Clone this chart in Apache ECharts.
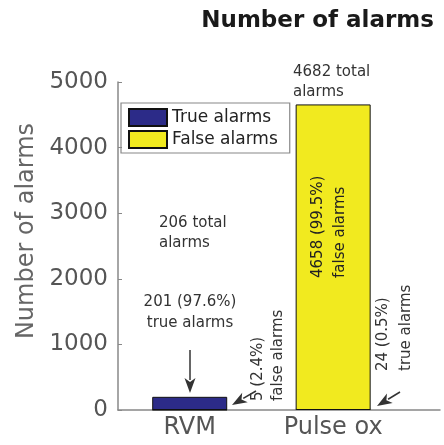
<!DOCTYPE html>
<html>
<head>
<meta charset="utf-8">
<script src="https://cdn.jsdelivr.net/npm/echarts@6/dist/echarts.min.js"></script>
<style>html,body{margin:0;padding:0;background:#fff}#c{width:444px;height:445px}</style>
</head>
<body>
<div id="c"></div>
<script>
// ---- data ----
var categories = ['RVM', 'Pulse ox'];
var categoryPositions = [1, 2];
var trueAlarms = [201, 24];
var falseAlarms = [5, 4658];
var yTicks = [0, 1000, 2000, 3000, 4000, 5000];
var seriesNames = ['True alarms', 'False alarms'];

var FONT = 'DejaVu Sans';
var chart = echarts.init(document.getElementById('c'), null, {renderer: 'canvas'});

function pairs(vals) { return vals.map(function (v, i) { return [categoryPositions[i], v]; }); }

var option = {
  animation: false,
  backgroundColor: '#fff',
  title: {
    text: 'Number of alarms', right: 5, top: 5,
    textStyle: {fontFamily: FONT, fontWeight: 'bold', fontSize: 23, color: '#1a1a1a'}
  },
  legend: {
    orient: 'vertical', left: 121, top: 103,
    data: seriesNames, icon: 'rect',
    borderColor: '#888', borderWidth: 1.2, padding: [5, 12, 4, 7],
    itemWidth: 38, itemHeight: 17, itemGap: 3,
    textStyle: {fontFamily: FONT, fontSize: 17, color: '#222'}
  },
  grid: {left: 118, right: 4, top: 82, bottom: 35},
  xAxis: {
    type: 'value', min: 0.5, max: 2.745,
    splitLine: {show: false},
    axisLine: {show: true, lineStyle: {color: '#888', width: 1.5}},
    axisTick: {show: false},
    axisLabel: {
      customValues: categoryPositions,
      formatter: function (v) { var i = categoryPositions.indexOf(v); return i >= 0 ? categories[i] : ''; },
      fontFamily: FONT, fontSize: 24, color: '#555', margin: 6
    }
  },
  yAxis: {
    type: 'value', min: yTicks[0], max: yTicks[yTicks.length - 1], interval: 1000,
    name: 'Number of alarms', nameLocation: 'middle', nameGap: 77,
    nameTextStyle: {fontFamily: FONT, fontSize: 24, color: '#666', padding: [0, 0, 0, 30]},
    splitLine: {show: false},
    axisLine: {show: true, lineStyle: {color: '#888', width: 1.5}},
    axisTick: {show: true, inside: true, length: 4, lineStyle: {color: '#888'}},
    axisLabel: {fontFamily: FONT, fontSize: 23, color: '#555', margin: 10,
      formatter: function (v) { return String(v); }}
  },
  series: [
    {name: seriesNames[0], type: 'bar', stack: 'a', barWidth: 75, data: pairs(trueAlarms),
     itemStyle: {color: '#2c2b88', borderColor: '#111', borderWidth: 1}},
    {name: seriesNames[1], type: 'bar', stack: 'a', barWidth: 75, data: pairs(falseAlarms),
     itemStyle: {color: '#f1ea1f', borderColor: '#111', borderWidth: 1}}
  ]
};
chart.setOption(option);

var txt = {fontFamily: FONT, fontSize: 15, fill: '#333'};
function T(text, x, y, opts) {
  var s = Object.assign({}, txt, {text: text, x: 0, y: 0}, opts.style || {});
  return {type: 'text', x: x, y: y, rotation: opts.rot || 0, style: s, z: 100};
}
function arrow(x1, y1, x2, y2) {
  var dx = x2 - x1, dy = y2 - y1, L = Math.sqrt(dx * dx + dy * dy);
  var ux = dx / L, uy = dy / L, h = 15, w = 5.5;
  var bx = x2 - ux * h, by = y2 - uy * h;
  return [
    {type: 'line', shape: {x1: x1, y1: y1, x2: bx + ux * 2, y2: by + uy * 2}, style: {stroke: '#333', lineWidth: 1.5}, z: 100},
    {type: 'polygon', shape: {points: [[x2, y2], [bx - uy * w, by + ux * w], [bx + ux * 4, by + uy * 4], [bx + uy * w, by - ux * w]]}, style: {fill: '#333'}, z: 100}
  ];
}
var R = Math.PI / 2;
var g = [
  T('206 total\nalarms', 159, 213, {style: {textAlign: 'left', textVerticalAlign: 'top', lineHeight: 20}}),
  T('201 (97.6%)\ntrue alarms', 190, 292, {style: {textAlign: 'center', textVerticalAlign: 'top', lineHeight: 21}}),
  T('5 (2.4%)\nfalse alarms', 268, 401, {rot: R, style: {textAlign: 'left', textVerticalAlign: 'middle', lineHeight: 20}}),
  T('4658 (99.5%)\nfalse alarms', 329, 278, {rot: R, style: {textAlign: 'left', textVerticalAlign: 'middle', lineHeight: 22, fill: '#222'}}),
  T('24 (0.5%)\ntrue alarms', 395, 371, {rot: R, style: {textAlign: 'left', textVerticalAlign: 'middle', lineHeight: 23}}),
  T('4682 total\nalarms', 293, 62, {style: {textAlign: 'left', textVerticalAlign: 'top', lineHeight: 20}})
];
g = g.concat(arrow(190, 350, 190, 393), arrow(256, 391, 232, 405), arrow(400, 392, 377, 406));
chart.setOption({graphic: {elements: g}});
</script>
</body>
</html>
